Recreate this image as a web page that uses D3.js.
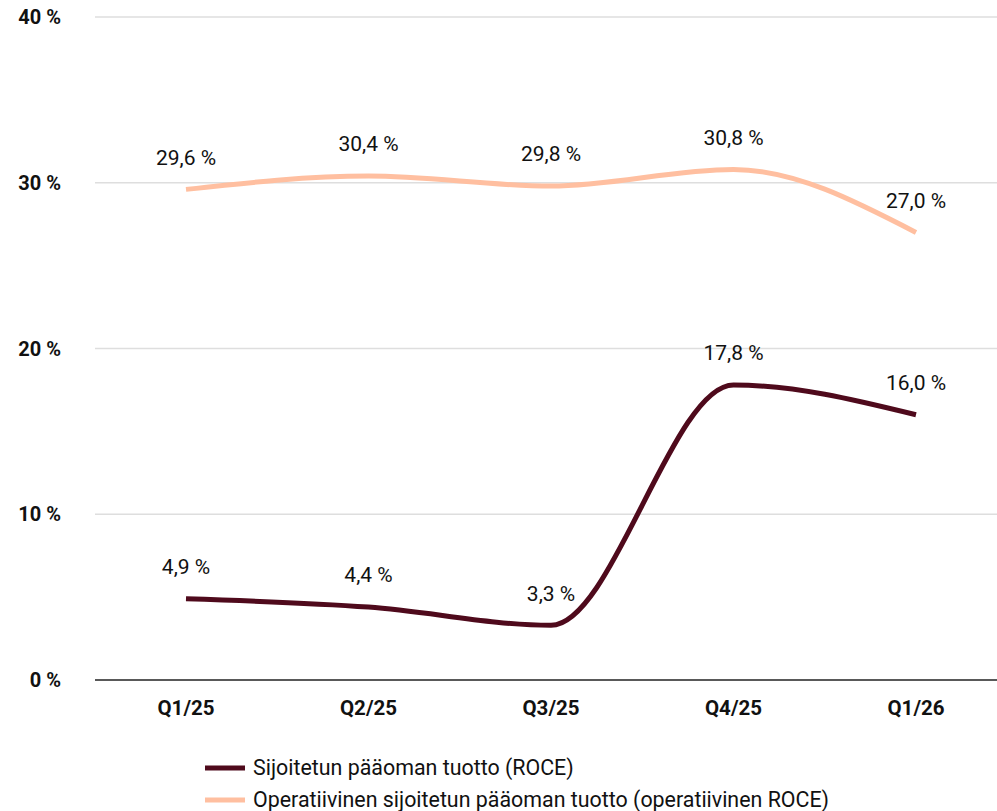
<!DOCTYPE html>
<html>
<head>
<meta charset="utf-8">
<script src="https://cdn.jsdelivr.net/npm/d3@7"></script>
<style>
  html, body { margin: 0; padding: 0; background: #fff; }
  svg { display: block; font-family: Roboto, "Noto Sans", sans-serif; }
</style>
</head>
<body>
<svg id="chart" width="997" height="811"></svg>
<script>
// Quarters on the x axis
const categories = ["Q1/25", "Q2/25", "Q3/25", "Q4/25", "Q1/26"];
// Return on capital employed, %
const roce = [4.9, 4.4, 3.3, 17.8, 16.0];
// Operative return on capital employed, %
const roceOperative = [29.6, 30.4, 29.8, 30.8, 27.0];
// Y axis ticks, %
const yTicks = [0, 10, 20, 30, 40];
const seriesNames = [
  "Sijoitetun pääoman tuotto (ROCE)",
  "Operatiivinen sijoitetun pääoman tuotto (operatiivinen ROCE)"
];
const seriesColors = ["#4f0a1c", "#ffbfa0"];

const svg = d3.select("#chart");
const plot = { left: 95, right: 997, top: 17, bottom: 680 };

const x = d3.scaleBand().domain(categories).range([94.75, 1007.25]);
const y = d3.scaleLinear().domain([0, 40]).range([plot.bottom, plot.top]);
const cx = c => x(c) + x.bandwidth() / 2;

// Grid lines
svg.append("g").selectAll("line")
  .data(yTicks.filter(t => t > 0))
  .join("line")
  .attr("x1", plot.left).attr("x2", plot.right)
  .attr("y1", d => y(d)).attr("y2", d => y(d))
  .attr("stroke", "#dedede").attr("stroke-width", 1.5);

// Baseline
svg.append("line")
  .attr("x1", plot.left).attr("x2", plot.right)
  .attr("y1", y(0)).attr("y2", y(0))
  .attr("stroke", "#222").attr("stroke-width", 1.5);

// Y tick labels
svg.append("g").selectAll("text")
  .data(yTicks)
  .join("text")
  .attr("x", 61).attr("y", d => y(d))
  .attr("dy", "0.35em")
  .attr("text-anchor", "end")
  .attr("font-size", 20).attr("font-weight", 700).attr("fill", "#111")
  .text(d => d + " %");

// X tick labels
svg.append("g").selectAll("text")
  .data(categories)
  .join("text")
  .attr("x", d => cx(d)).attr("y", 708)
  .attr("dy", "0.35em")
  .attr("text-anchor", "middle")
  .attr("font-size", 20.5).attr("font-weight", 700).attr("fill", "#111")
  .text(d => d);

const line = d3.line()
  .x((d, i) => cx(categories[i]))
  .y(d => y(d))
  .curve(d3.curveMonotoneX);

const fmt = v => d3.format(".1f")(v).replace(".", ",") + " %";

[roceOperative, roce].forEach((vals, k) => {
  const color = k === 0 ? seriesColors[1] : seriesColors[0];
  svg.append("path")
    .datum(vals)
    .attr("d", line)
    .attr("fill", "none")
    .attr("stroke", color)
    .attr("stroke-width", 5);

  svg.append("g").selectAll("text")
    .data(vals)
    .join("text")
    .attr("x", (d, i) => cx(categories[i]))
    .attr("y", d => y(d) - 32)
    .attr("dy", "0.35em")
    .attr("text-anchor", "middle")
    .attr("font-size", 21).attr("fill", "#111")
    .text(d => fmt(d));
});

// Legend
const legend = svg.append("g");
seriesNames.forEach((name, i) => {
  const ly = 768 + i * 32;
  legend.append("line")
    .attr("x1", 205).attr("x2", 245)
    .attr("y1", ly).attr("y2", ly)
    .attr("stroke", seriesColors[i]).attr("stroke-width", 5);
  legend.append("text")
    .attr("x", 253).attr("y", ly)
    .attr("dy", "0.35em")
    .attr("font-size", 21.4).attr("fill", "#111")
    .text(name);
});
</script>
</body>
</html>
